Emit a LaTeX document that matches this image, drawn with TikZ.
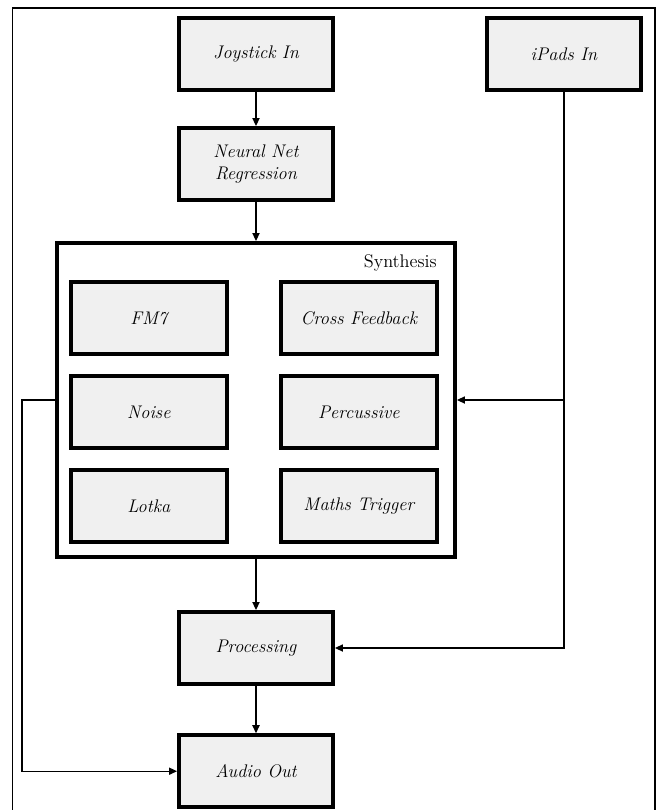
\documentclass[tikz,border=0pt]{standalone}
\usetikzlibrary{arrows.meta}

\begin{document}
\begin{tikzpicture}[
       thick,
       >={Triangle[length=2mm,width=1.8mm]},
       bloc/.style={
         rectangle,
         draw=black,
         fill=gray!12,
         line width=2.8pt,
         minimum width=3.85cm,
         minimum height=1.8cm,
         align=center,
         font=\fontsize{13}{16}\selectfont\itshape
       },
       module/.style={
         bloc,
         minimum width=3.9cm
       },
       groupe/.style={
         rectangle,
         draw=black,
         fill=white,
         line width=2.8pt,
         minimum width=9.95cm,
         minimum height=7.85cm
       }
     ]

       \useasboundingbox (0,0) rectangle (16.4,-20.25);
       \draw[line width=1pt] (0.31,-20.25) -- (0.31,-0.2) -- (16.37,-0.2) -- (16.37,-20.25);

       \node (joy) at (6.4,-1.35) [bloc]{Joystick In};
       \node (ipads) at (14.1,-1.35) [bloc]{iPads In};
       \node (nn) at (6.4,-4.1) [bloc]{Neural Net\\Regression};

       \node (synth) at (6.4,-10) [groupe]{};
       \node (titre) at (10.93,-6.68) [anchor=base east,inner sep=0pt,font=\fontsize{13}{16}\selectfont]{Synthesis};

       \node (fm) at (3.72,-7.95) [module]{FM7};
       \node (cross) at (8.97,-7.95) [module]{Cross Feedback};
       \node (noise) at (3.72,-10.3) [module]{Noise};
       \node (perc) at (8.97,-10.3) [module]{Percussive};
       \node (lotka) at (3.72,-12.65) [module]{Lotka};
       \node (maths) at (8.97,-12.65) [module]{Maths Trigger};

       \node (proc) at (6.4,-16.2) [bloc]{Processing};
       \node (audio) at (6.4,-19.28) [bloc]{Audio Out};

       \coordinate (gauche) at (0.55,-10);

       \draw[->] (joy) -- (nn);
       \draw[->] (nn) -- (synth);
       \draw[->] (synth) -- (proc);
       \draw[->] (proc) -- (audio);

       \draw[->] (ipads.south) |- (synth.east);
       \draw[->] (ipads.south) |- (proc.east);
       \draw[->] (synth.west) -- (gauche) |- (audio.west);

\end{tikzpicture}
\end{document}
